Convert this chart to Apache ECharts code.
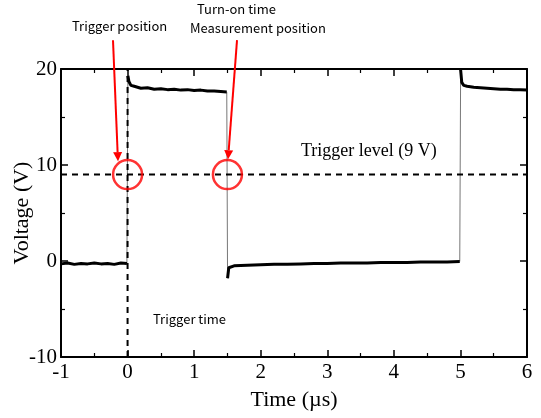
<!DOCTYPE html>
<html><head><meta charset="utf-8">
<script src="https://cdn.jsdelivr.net/npm/echarts@6/dist/echarts.min.js"></script>
<style>html,body{margin:0;padding:0;background:#fff}#c{width:541px;height:418px}</style>
</head><body><div id="c"></div>
<script>
// Waveform segments (time in µs, voltage in V)
const lowTimes1 = [-1.0,-0.9,-0.8,-0.7,-0.6,-0.5,-0.4,-0.3,-0.2,-0.1,-0.01];
const lowVolts1 = [-0.3,-0.2,-0.35,-0.25,-0.3,-0.2,-0.3,-0.25,-0.35,-0.2,-0.25];
const highTimes1 = [0.005,0.02,0.05,0.1,0.2,0.3,0.4,0.5,0.6,0.7,0.8,0.9,1.0,1.1,1.2,1.3,1.4,1.49];
const highVolts1 = [19.3,18.7,18.3,18.2,18.0,18.05,17.9,17.95,17.85,17.9,17.8,17.85,17.75,17.8,17.7,17.7,17.65,17.6];
const lowTimes2 = [1.502,1.52,1.6,1.8,2.0,2.2,2.4,2.6,2.8,3.0,3.2,3.4,3.6,3.8,4.0,4.2,4.4,4.6,4.8,4.99];
const lowVolts2 = [-1.8,-0.7,-0.5,-0.45,-0.4,-0.35,-0.35,-0.3,-0.25,-0.25,-0.2,-0.2,-0.2,-0.15,-0.15,-0.15,-0.1,-0.1,-0.1,-0.05];
const highTimes2 = [5.003,5.02,5.05,5.1,5.2,5.3,5.4,5.5,5.6,5.7,5.8,5.9,6.0];
const highVolts2 = [19.9,18.6,18.3,18.2,18.1,18.05,18.0,17.95,17.9,17.9,17.85,17.85,17.8];
const edgeRise0 = [[-0.01,-0.25],[0.005,19.3]];
const edgeFall = [[1.49,17.6],[1.502,-1.8]];
const edgeRise = [[4.99,-0.05],[5.003,19.9]];

const triggerLevel = 9;
const triggerTime = 0;
const markPoints = [[0,9],[1.5,9]];
const arrows = [[[-0.219,23.0],[-0.144,10.4]],[[1.644,23.0],[1.509,10.6]]];

const xMin = -1, xMax = 6, xInt = 1;
const yMin = -10, yMax = 20, yInt = 10;
const xTitle = 'Time (\u00b5s)';
const yTitle = 'Voltage (V)';

const zip = (a,b)=>a.map((t,i)=>[t,b[i]]);
const mainData = [].concat(zip(lowTimes1,lowVolts1),[[null,null]],zip(highTimes1,highVolts1),[[null,null]],zip(lowTimes2,lowVolts2),[[null,null]],zip(highTimes2,highVolts2));

const serif = 'Liberation Serif';
const sans = 'Noto Sans CJK JP';
const axisCommon = {
  axisLine:{onZero:false,lineStyle:{color:'#000',width:2}},
  axisTick:{inside:true,length:7,lineStyle:{color:'#000',width:1.5}},
  minorTick:{show:true,splitNumber:2,length:4,lineStyle:{color:'#000',width:1.2}},
  splitLine:{show:false}
};
const chart = echarts.init(document.getElementById('c'));
const texts = [
  {type:'text',left:72,top:20,style:{text:'Trigger position',font:'13px "'+sans+'"',fill:'#000'}},
  {type:'text',left:197,top:3,style:{text:'Turn-on time',font:'13px "'+sans+'"',fill:'#000'}},
  {type:'text',left:190,top:22,style:{text:'Measurement position',font:'13px "'+sans+'"',fill:'#000'}},
  {type:'text',left:301,top:142,style:{text:'Trigger level (9 V)',font:'18px "'+serif+'"',fill:'#000'}},
  {type:'text',left:153,top:313,style:{text:'Trigger time',font:'13px "'+sans+'"',fill:'#000'}}
];
chart.setOption({
  animation:false,
  backgroundColor:'#fff',
  grid:{left:61,right:14,top:69,bottom:61,containLabel:false,outerBoundsMode:'none'},
  xAxis:[
    Object.assign({type:'value',min:xMin,max:xMax,interval:xInt,position:'bottom',
      axisLabel:{color:'#000',fontFamily:serif,fontSize:21,margin:5},
      name:xTitle,nameLocation:'middle',nameGap:32,nameMoveOverlap:false,
      nameTextStyle:{color:'#000',fontFamily:serif,fontSize:22}},axisCommon),
    Object.assign({type:'value',min:xMin,max:xMax,interval:xInt,position:'top',axisLabel:{show:false}},axisCommon)
  ],
  yAxis:[
    Object.assign({type:'value',min:yMin,max:yMax,interval:yInt,position:'left',
      axisLabel:{color:'#000',fontFamily:serif,fontSize:21,margin:4},
      name:yTitle,nameLocation:'middle',nameGap:28,nameMoveOverlap:false,
      nameTextStyle:{color:'#000',fontFamily:serif,fontSize:22}},axisCommon),
    Object.assign({type:'value',min:yMin,max:yMax,interval:yInt,position:'right',axisLabel:{show:false}},axisCommon)
  ],
  series:[
    {type:'line',data:edgeRise0,symbol:'none',lineStyle:{color:'#777',width:1}},
    {type:'line',data:edgeFall,symbol:'none',lineStyle:{color:'#777',width:1}},
    {type:'line',data:edgeRise,symbol:'none',lineStyle:{color:'#777',width:1}},
    {type:'line',data:mainData,symbol:'none',connectNulls:false,lineStyle:{color:'#000',width:3}},
    {type:'line',data:[[xMin,triggerLevel],[xMax,triggerLevel]],symbol:'none',
      lineStyle:{color:'#000',width:2,type:[6,5]}},
    {type:'line',data:[[triggerTime,yMin],[triggerTime,yMax]],symbol:'none',
      lineStyle:{color:'#000',width:2,type:[6,5]}},
    {type:'scatter',data:markPoints,symbol:'circle',symbolSize:29,
      itemStyle:{color:'rgba(0,0,0,0)',borderColor:'#f00',borderWidth:2.5}, z:5}
  ],
  graphic:texts
});
// red arrows, placed through the axes' own scales
const arrowGraphics = [];
arrows.forEach(a=>{
  const p0 = chart.convertToPixel({gridIndex:0},a[0]);
  const p1 = chart.convertToPixel({gridIndex:0},a[1]);
  const dx=p1[0]-p0[0], dy=p1[1]-p0[1], L=Math.hypot(dx,dy), ux=dx/L, uy=dy/L;
  const hl=9, hw=4.5;
  const bx=p1[0]-ux*hl, by=p1[1]-uy*hl;
  arrowGraphics.push({type:'line',z:10,shape:{x1:p0[0],y1:p0[1],x2:bx,y2:by},style:{stroke:'#f00',lineWidth:2}});
  arrowGraphics.push({type:'polygon',z:10,shape:{points:[[p1[0],p1[1]],[bx-uy*hw,by+ux*hw],[bx+uy*hw,by-ux*hw]]},style:{fill:'#f00'}});
});
chart.setOption({graphic:texts.concat(arrowGraphics)});
</script></body></html>
